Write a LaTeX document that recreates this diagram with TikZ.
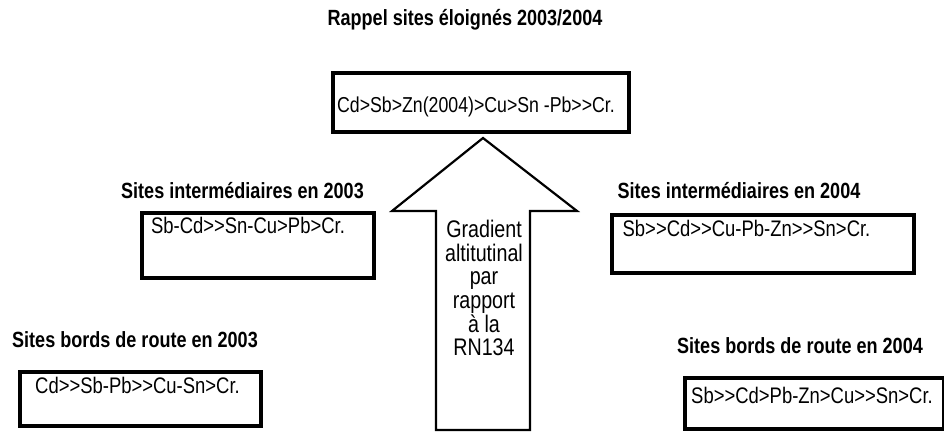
\documentclass[tikz,border=0pt]{standalone}
\usepackage{fontspec}
\setmainfont{Liberation Sans}[FakeStretch=0.82,Ligatures=TeXOff]
\begin{document}
\begin{tikzpicture}[x=1bp,y=-1bp,
  boxframe/.style={draw=black,line width=3.5bp,inner sep=0pt,anchor=north west},
  boxtext/.style={anchor=base,inner sep=0pt,font=\fontsize{22.5bp}{26bp}\selectfont},
  headtext/.style={anchor=base,inner sep=0pt,font=\fontsize{22bp}{26bp}\selectfont\bfseries},
  arrowline/.style={draw=black,line width=2.2bp,line join=miter}]
\useasboundingbox (0,0) rectangle (944,432);
% title
\node[headtext] (title) at (465,25) {Rappel sites éloignés 2003/2004};
% top box
\node[boxframe,minimum width=296bp,minimum height=59bp] (topbox) at (331,71) {};
\node[boxtext,font=\fontsize{21.6bp}{26bp}\selectfont] (toptext) at (476,112) {Cd>Sb>Zn(2004)>Cu>Sn -Pb>>Cr.};
% arrow
\coordinate (tip) at (483,138);
\coordinate (rb) at (577,211);
\coordinate (rt) at (530,211);
\coordinate (rbot) at (530,430);
\coordinate (lbot) at (436,430);
\coordinate (lt) at (436,211);
\coordinate (lb) at (392,211);
\draw[arrowline] (tip) -- (rb) -- (rt) -- (rbot) -- (lbot) -- (lt) -- (lb) -- cycle;
\node[anchor=north,inner sep=0pt,align=center,font=\fontsize{24bp}{23.6bp}\selectfont] (grad) at (484,220)
  {Gradient\\altitutinal\\par\\rapport\\à la\\RN134};
% intermediate 2003
\node[headtext] (lab1) at (242.5,198) {Sites intermédiaires en 2003};
\node[boxframe,minimum width=232bp,minimum height=65bp] (box1) at (140,211) {};
\node[boxtext] (txt1) at (248,233) {Sb-Cd>>Sn-Cu>Pb>Cr.};
% intermediate 2004
\node[headtext] (lab2) at (739,198) {Sites intermédiaires en 2004};
\node[boxframe,minimum width=302bp,minimum height=58bp] (box2) at (610,213) {};
\node[boxtext] (txt2) at (746.5,236) {Sb>>Cd>>Cu-Pb-Zn>>Sn>Cr.};
% roadside 2003
\node[headtext] (lab3) at (135,347) {Sites bords de route en 2003};
\node[boxframe,minimum width=241bp,minimum height=54bp] (box3) at (18,370) {};
\node[boxtext] (txt3) at (137.5,393) {Cd>>Sb-Pb>>Cu-Sn>Cr.};
% roadside 2004
\node[headtext] (lab4) at (800,353) {Sites bords de route en 2004};
\node[boxframe,minimum width=259bp,minimum height=51bp] (box4) at (683,376) {};
\node[boxtext] (txt4) at (812,403) {Sb>>Cd>Pb-Zn>Cu>>Sn>Cr.};
\end{tikzpicture}
\end{document}
